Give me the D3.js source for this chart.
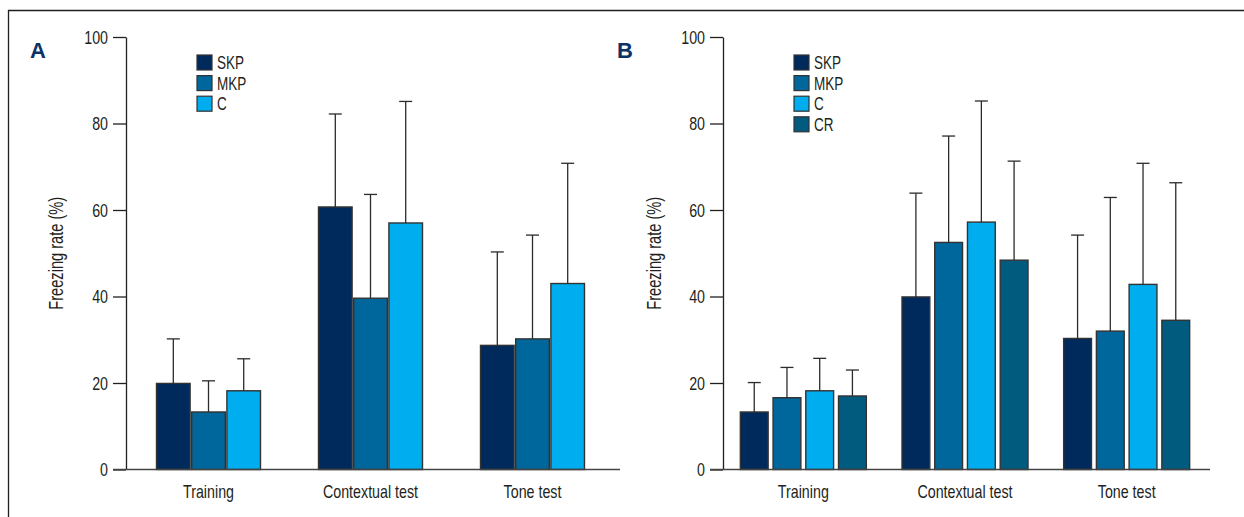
<!DOCTYPE html>
<html>
<head>
<meta charset="utf-8">
<script src="https://cdn.jsdelivr.net/npm/d3@7"></script>
<style>
  html, body { margin: 0; padding: 0; background: #fff; }
  svg { display: block; }
  text { font-family: "Liberation Sans", Arial, sans-serif; fill: #231f20; }
</style>
</head>
<body>
<svg id="chart" width="1244" height="517"></svg>
<script>
// ---------- DATA ----------
const categories = ["Training", "Contextual test", "Tone test"];
const yTicks = [0, 20, 40, 60, 80, 100];
const yLabel = "Freezing rate (%)";

// Panel A
const seriesA = ["SKP", "MKP", "C"];
const meanA_SKP = [19.9, 60.7, 28.7];
const sdA_SKP   = [10.3, 21.5, 21.6];
const meanA_MKP = [13.3, 39.6, 30.2];
const sdA_MKP   = [7.2, 24.0, 24.0];
const meanA_C   = [18.2, 57.0, 43.0];
const sdA_C     = [7.4, 28.1, 27.8];

// Panel B
const seriesB = ["SKP", "MKP", "C", "CR"];
const meanB_SKP = [13.3, 39.9, 30.3];
const sdB_SKP   = [6.8, 24.0, 23.9];
const meanB_MKP = [16.6, 52.5, 32.0];
const sdB_MKP   = [7.0, 24.6, 30.9];
const meanB_C   = [18.2, 57.2, 42.8];
const sdB_C     = [7.5, 28.0, 28.0];
const meanB_CR  = [17.0, 48.4, 34.5];
const sdB_CR    = [6.0, 22.9, 31.8];

const colors = { SKP: "#002a5c", MKP: "#00679d", C: "#00adee", CR: "#005b7f" };

// ---------- LAYOUT ----------
const svg = d3.select("#chart");
const ink = "#231f20";

// frame
svg.append("line").attr("x1", 8).attr("x2", 1244).attr("y1", 10.5).attr("y2", 10.5)
  .attr("stroke", ink).attr("stroke-width", 1.3);
svg.append("line").attr("x1", 8.5).attr("x2", 8.5).attr("y1", 10).attr("y2", 517)
  .attr("stroke", ink).attr("stroke-width", 1.3);

const panels = [
  {
    letter: "A", letterX: 30, series: seriesA,
    means: [meanA_SKP, meanA_MKP, meanA_C], sds: [sdA_SKP, sdA_MKP, sdA_C],
    axisX: 126, baseStart: 113, baseEnd: 620, bandRange: [127.5, 613.5],
    groupHalf: 52, innerPad: 0.045, titleX: 63, legendX: 197
  },
  {
    letter: "B", letterX: 617, series: seriesB,
    means: [meanB_SKP, meanB_MKP, meanB_C, meanB_CR], sds: [sdB_SKP, sdB_MKP, sdB_C, sdB_CR],
    axisX: 723, baseStart: 710, baseEnd: 1210, bandRange: [722.5, 1207.5],
    groupHalf: 63, innerPad: 0.15, titleX: 661, legendX: 794
  }
];

const y = d3.scaleLinear().domain([0, 100]).range([469.5, 37]);

panels.forEach(p => {
  const g = svg.append("g");

  // panel letter
  g.append("text").attr("x", p.letterX).attr("y", 58)
    .style("font-weight", "bold").style("font-size", "22px")
    .style("fill", "#0b3366").text(p.letter);

  const x0 = d3.scaleBand().domain(categories).range(p.bandRange).padding(0);
  const x1 = d3.scaleBand().domain(p.series).range([-p.groupHalf, p.groupHalf]).paddingInner(p.innerPad);

  const rows = [];
  p.series.forEach((s, si) => {
    categories.forEach((c, ci) => {
      rows.push({ s, c, v: p.means[si][ci], e: p.sds[si][ci] });
    });
  });
  const cx = d => x0(d.c) + x0.bandwidth() / 2 + x1(d.s);

  // bars
  g.selectAll("rect.bar").data(rows).join("rect").attr("class", "bar")
    .attr("x", d => cx(d))
    .attr("width", x1.bandwidth())
    .attr("y", d => y(d.v))
    .attr("height", d => y(0) - y(d.v))
    .attr("fill", d => colors[d.s])
    .attr("stroke", "#333")
    .attr("stroke-width", 1.4);

  // error bars (upper only)
  const eb = g.selectAll("g.err").data(rows).join("g").attr("class", "err");
  eb.append("line")
    .attr("x1", d => cx(d) + x1.bandwidth() / 2).attr("x2", d => cx(d) + x1.bandwidth() / 2)
    .attr("y1", d => y(d.v)).attr("y2", d => y(d.v + d.e))
    .attr("stroke", "#2b2b2b").attr("stroke-width", 1.3);
  eb.append("line")
    .attr("x1", d => cx(d) + x1.bandwidth() / 2 - 6.5).attr("x2", d => cx(d) + x1.bandwidth() / 2 + 6.5)
    .attr("y1", d => y(d.v + d.e)).attr("y2", d => y(d.v + d.e))
    .attr("stroke", "#2b2b2b").attr("stroke-width", 1.3);

  // y axis
  const yAxis = d3.axisLeft(y).tickValues(yTicks).tickSize(13).tickSizeOuter(0).tickPadding(5);
  const ya = g.append("g").attr("transform", `translate(${p.axisX},0)`).call(yAxis);
  ya.select(".domain").attr("stroke", ink).attr("stroke-width", 1.3);
  ya.selectAll(".tick line").attr("stroke", ink).attr("stroke-width", 1.3);
  ya.selectAll(".tick text").attr("class", "narrow").style("font-size", "19px").style("fill", ink)
    .style("font-family", "'Liberation Sans', Arial, sans-serif");

  // baseline
  g.append("line").attr("x1", p.baseStart).attr("x2", p.baseEnd)
    .attr("y1", y(0)).attr("y2", y(0))
    .attr("stroke", "#444").attr("stroke-width", 1.4);

  // x axis labels
  const xAxis = d3.axisBottom(x0).tickSize(0).tickPadding(15);
  const xa = g.append("g").attr("transform", `translate(0,${y(0)})`).call(xAxis);
  xa.select(".domain").remove();
  xa.selectAll(".tick text").attr("class", "narrow").style("font-size", "19px").style("fill", ink)
    .style("font-family", "'Liberation Sans', Arial, sans-serif");

  // y title
  g.append("text").attr("class", "narrow")
    .attr("transform", `translate(${p.titleX},${(y(0) + y(100)) / 2}) rotate(-90)`)
    .attr("text-anchor", "middle")
    .style("font-size", "19.5px")
    .text(yLabel);

  // legend
  const lg = g.append("g");
  p.series.forEach((s, i) => {
    const ly = 55 + i * 20.6;
    lg.append("rect").attr("x", p.legendX).attr("y", ly).attr("width", 15).attr("height", 15)
      .attr("fill", colors[s]).attr("stroke", "#333").attr("stroke-width", 1.2);
    lg.append("text").attr("class", "narrow").attr("x", p.legendX + 20).attr("y", ly + 14)
      .style("font-size", "18px").text(s);
  });
});

// condense text horizontally (narrow face look)
svg.selectAll("text.narrow").each(function () {
  const w = this.getComputedTextLength();
  d3.select(this).attr("textLength", (w * 0.75).toFixed(2)).attr("lengthAdjust", "spacingAndGlyphs");
});
</script>
</body>
</html>
